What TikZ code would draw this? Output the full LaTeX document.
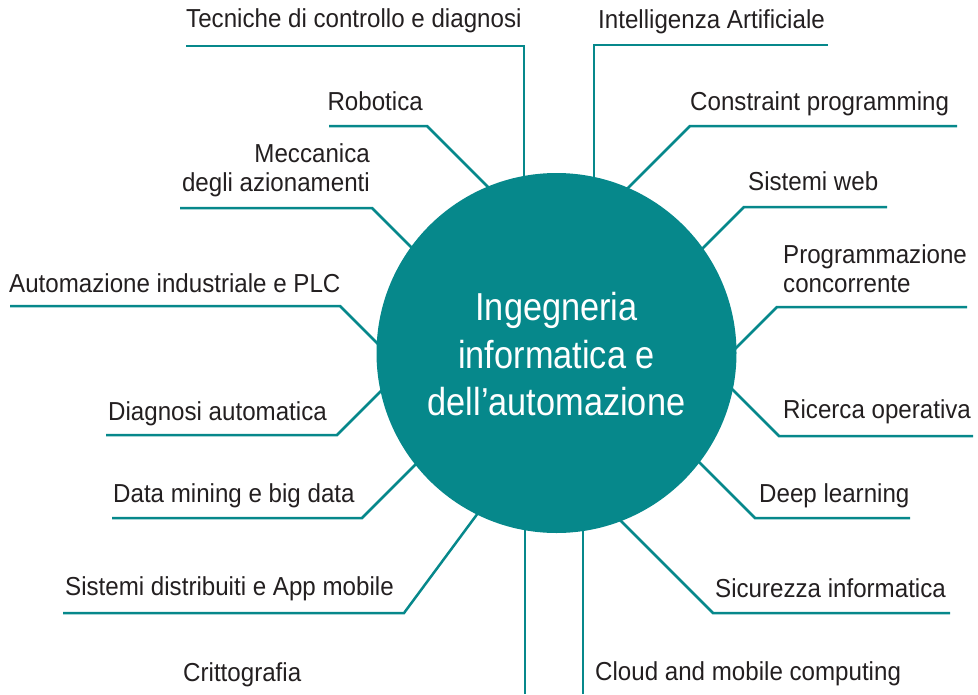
\documentclass[tikz,border=0pt]{standalone}
\usepackage{fontspec}
\setmainfont{Liberation Sans}
\newfontfamily\lblfont[FakeStretch=0.928]{Liberation Sans}
\newfontfamily\ctrfont[FakeStretch=0.88]{Liberation Sans}
\definecolor{tealc}{HTML}{06888B}
\definecolor{ink}{HTML}{231F20}
\begin{document}
\begin{tikzpicture}[x=1pt,y=-1pt,
  conn/.style={draw=tealc, line width=2.5pt},
  lbl/.style={font=\lblfont\fontsize{26}{29.5}\selectfont, text=ink, inner sep=0pt},
  hub/.style={circle, fill=tealc, minimum size=360pt, inner sep=0pt},
  hubtext/.style={font=\ctrfont\fontsize{39}{47.5}\selectfont, text=white, align=center, inner sep=0pt}]
\useasboundingbox (0,0) rectangle (978,694);

% --- connector coordinates: free end, elbow, end hidden under the hub
\coordinate (tecA) at (186,46);  \coordinate (tecB) at (524,46);  \coordinate (tecC) at (524,260);
\coordinate (intA) at (828,45);  \coordinate (intB) at (594,45);  \coordinate (intC) at (594,260);
\coordinate (robA) at (329,126); \coordinate (robB) at (427,126); \coordinate (robC) at (510,209);
\coordinate (conA) at (957,126); \coordinate (conB) at (690,126); \coordinate (conC) at (605,211);
\coordinate (mecA) at (180,208); \coordinate (mecB) at (372,208); \coordinate (mecC) at (440,276);
\coordinate (webA) at (887,207); \coordinate (webB) at (744,207); \coordinate (webC) at (680,271);
\coordinate (autA) at (10,306);  \coordinate (autB) at (340,306); \coordinate (autC) at (400,366);
\coordinate (proA) at (967,307); \coordinate (proB) at (777,307); \coordinate (proC) at (715,369);
\coordinate (diaA) at (106,435); \coordinate (diaB) at (337,435); \coordinate (diaC) at (400,372);
\coordinate (ricA) at (973,436); \coordinate (ricB) at (779,436); \coordinate (ricC) at (713,370);
\coordinate (datA) at (112,518); \coordinate (datB) at (362,518); \coordinate (datC) at (450,430);
\coordinate (deeA) at (910,518); \coordinate (deeB) at (755,518); \coordinate (deeC) at (670,433);
\coordinate (sisA) at (63,613);  \coordinate (sisB) at (404,613); \coordinate (sisC) at (498,486);
\coordinate (sicA) at (950,613); \coordinate (sicB) at (713,613); \coordinate (sicC) at (600,500);
\coordinate (criA) at (525,694); \coordinate (criC) at (525,450);
\coordinate (cloA) at (583,694); \coordinate (cloC) at (583,450);

\draw[conn] (tecA) -- (tecB) -- (tecC);
\draw[conn] (intA) -- (intB) -- (intC);
\draw[conn] (robA) -- (robB) -- (robC);
\draw[conn] (conA) -- (conB) -- (conC);
\draw[conn] (mecA) -- (mecB) -- (mecC);
\draw[conn] (webA) -- (webB) -- (webC);
\draw[conn] (autA) -- (autB) -- (autC);
\draw[conn] (proA) -- (proB) -- (proC);
\draw[conn] (diaA) -- (diaB) -- (diaC);
\draw[conn] (ricA) -- (ricB) -- (ricC);
\draw[conn] (datA) -- (datB) -- (datC);
\draw[conn] (deeA) -- (deeB) -- (deeC);
\draw[conn] (sisA) -- (sisB) -- (sisC);
\draw[conn] (sicA) -- (sicB) -- (sicC);
\draw[conn] (criA) -- (criC);
\draw[conn] (cloA) -- (cloC);

% --- hub
\node[hub] (hub) at (556.5,353) {};
\node[hubtext] (hubt) at (556.5,354.5) {Ingegneria\\informatica e\\dell’automazione};

% --- labels
\node[lbl, anchor=base west] (tec) at (186,27) {Tecniche di controllo e diagnosi};
\node[lbl, anchor=base west] (int) at (598,28) {Intelligenza Artificiale};
\node[lbl, anchor=base east] (rob) at (423,110) {Robotica};
\node[lbl, anchor=base west] (con) at (690,110) {Constraint programming};
\node[lbl, anchor=north east, align=right] (mec) at (370,143.4) {Meccanica\\degli azionamenti};
\node[lbl, anchor=base west] (web) at (748,190) {Sistemi web};
\node[lbl, anchor=base west] (aut) at (9,292) {Automazione industriale e PLC};
\node[lbl, anchor=north west, align=left] (pro) at (783,244.4) {Programmazione\\concorrente};
\node[lbl, anchor=base east] (dia) at (327,420) {Diagnosi automatica};
\node[lbl, anchor=base west] (ric) at (783,418) {Ricerca operativa};
\node[lbl, anchor=base west] (dat) at (113,502) {Data mining e big data};
\node[lbl, anchor=base west] (dee) at (759,502) {Deep learning};
\node[lbl, anchor=base west] (sis) at (65,595) {Sistemi distribuiti e App mobile};
\node[lbl, anchor=base west] (sic) at (715,597) {Sicurezza informatica};
\node[lbl, anchor=base west] (cri) at (183,681) {Crittografia};
\node[lbl, anchor=base west] (clo) at (595,680) {Cloud and mobile computing};
\end{tikzpicture}
\end{document}
